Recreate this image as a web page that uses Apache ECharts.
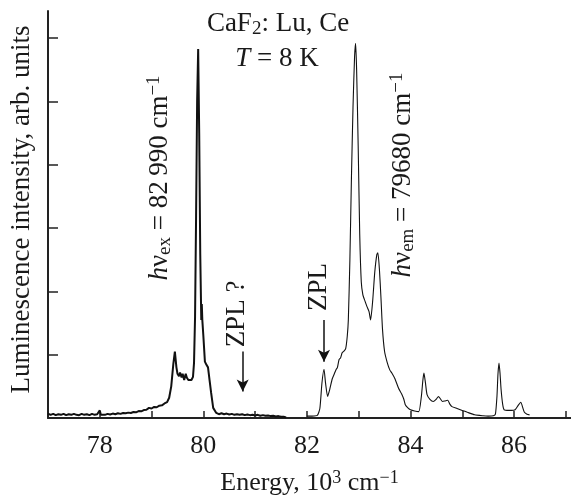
<!DOCTYPE html>
<html><head><meta charset="utf-8">
<script src="https://cdn.jsdelivr.net/npm/echarts@6/dist/echarts.min.js"></script>
<style>html,body{margin:0;padding:0;background:#fff}#c{width:571px;height:498px}</style>
</head><body><div id="c"></div>
<script>
// Excitation spectrum (thick, noisy)
const exX = [77.00,77.05,77.10,77.15,77.20,77.25,77.30,77.35,77.40,77.45,77.50,77.55,77.60,77.65,77.70,77.75,77.80,77.85,77.90,77.95,78.00,78.02,78.05,78.10,78.15,78.20,78.25,78.30,78.35,78.40,78.45,78.50,78.55,78.60,78.65,78.70,78.75,78.80,78.85,78.90,78.95,79.00,79.05,79.10,79.15,79.20,79.25,79.30,79.34,79.38,79.42,79.45,79.48,79.50,79.53,79.55,79.58,79.60,79.63,79.66,79.68,79.71,79.74,79.77,79.80,79.82,79.84,79.86,79.88,79.90,79.92,79.94,79.96,79.97,79.98,80.00,80.03,80.06,80.09,80.12,80.15,80.19,80.25,80.30,80.35,80.40,80.45,80.50,80.55,80.60,80.65,80.70,80.75,80.80,80.85,80.90,80.95,81.00,81.05,81.10,81.15,81.20,81.25,81.30,81.35,81.40,81.45,81.50,81.55,81.60];
const exY = [0.07,0.05,0.065,0.045,0.06,0.05,0.065,0.045,0.06,0.05,0.065,0.05,0.045,0.065,0.05,0.06,0.045,0.065,0.05,0.06,0.12,0.05,0.065,0.05,0.065,0.055,0.07,0.06,0.075,0.065,0.08,0.075,0.085,0.08,0.095,0.09,0.11,0.105,0.125,0.13,0.16,0.15,0.175,0.17,0.195,0.2,0.23,0.25,0.32,0.5,0.85,1.05,0.8,0.7,0.66,0.72,0.64,0.7,0.6,0.7,0.64,0.6,0.57,0.6,0.65,0.87,1.6,3.2,5.0,5.83,4.5,2.6,1.55,1.8,1.55,1.3,0.89,0.84,0.8,0.6,0.4,0.16,0.08,0.06,0.075,0.06,0.07,0.055,0.065,0.05,0.06,0.05,0.06,0.045,0.055,0.045,0.05,0.04,0.05,0.035,0.045,0.035,0.04,0.03,0.035,0.025,0.03,0.02,0.02,0.01];
// Emission spectrum (thin)
const emX = [82.00,82.10,82.20,82.25,82.29,82.33,82.36,82.40,82.44,82.49,82.53,82.56,82.59,82.62,82.65,82.68,82.72,82.75,82.78,82.80,82.83,82.86,82.89,82.92,82.94,82.96,82.99,83.02,83.05,83.08,83.12,83.16,83.20,83.23,83.27,83.31,83.35,83.37,83.40,83.43,83.46,83.50,83.55,83.60,83.64,83.70,83.77,83.83,83.87,83.90,83.95,84.00,84.08,84.16,84.21,84.24,84.26,84.29,84.32,84.38,84.44,84.50,84.54,84.58,84.62,84.67,84.72,84.76,84.80,84.90,85.00,85.10,85.24,85.40,85.50,85.60,85.64,85.67,85.69,85.71,85.73,85.75,85.78,85.81,85.90,85.95,86.02,86.08,86.13,86.17,86.20,86.25,86.30];
const emY = [0.03,0.03,0.04,0.15,0.55,0.77,0.55,0.34,0.45,0.62,0.70,0.76,0.80,0.92,0.95,1.03,1.06,1.10,1.30,1.55,2.50,3.80,4.90,5.70,5.92,5.50,4.30,2.90,2.15,1.95,1.85,1.76,1.68,1.55,1.85,2.30,2.58,2.61,2.35,1.90,1.40,1.05,0.88,0.76,0.71,0.62,0.47,0.38,0.30,0.21,0.16,0.13,0.11,0.10,0.34,0.60,0.71,0.55,0.37,0.29,0.26,0.30,0.34,0.30,0.26,0.27,0.28,0.22,0.18,0.15,0.12,0.09,0.05,0.035,0.03,0.035,0.06,0.34,0.70,0.87,0.70,0.45,0.22,0.13,0.12,0.12,0.13,0.20,0.25,0.16,0.09,0.06,0.05];
// Axis ticks
const xTickValues = [77,78,79,80,81,82,83,84,85,86,87];
const xLabelValues = [78,80,82,84,86];
const yTickValues = [1,2,3,4,5,6];
// ZPL arrows (x, top y, tip y)
const arrowX = [80.76, 82.33];
const arrowTop = [1.05, 1.55];
const arrowTip = [0.42, 0.89];

const FONT = "'Liberation Serif','Times New Roman',serif";
const INK = '#1a1a1a';
const richBase = {
  i: {fontFamily: FONT, fontStyle: 'italic', fontSize: 27, color: INK},
  sub: {fontFamily: FONT, fontSize: 19, color: INK, padding: [11, 0, 0, 0], verticalAlign: 'top'},
  sup: {fontFamily: FONT, fontSize: 19, color: INK, padding: [0, 0, 11, 0], verticalAlign: 'bottom'}
};

const chart = echarts.init(document.getElementById('c'), null, {renderer: 'canvas'});
const pair = (xs, ys) => xs.map((x, k) => [x, ys[k]]);
const arrowData = arrowX.map((x, k) => [{coord: [x, arrowTop[k]]}, {coord: [x, arrowTip[k]]}]);

chart.setOption({
  animation: false,
  backgroundColor: '#fff',
  grid: {left: 48, right: 0, top: 11, bottom: 80, containLabel: false, outerBoundsMode: 'none'},
  xAxis: {
    type: 'value', min: 77, max: 87.1,
    name: 'Energy, 10{sup|3} cm{sup|\u22121}',
    nameLocation: 'middle', nameGap: 51,
    nameTextStyle: {fontFamily: FONT, fontSize: 26, color: INK, rich: {
      sup: {fontFamily: FONT, fontSize: 18, color: INK, padding: [0,0,10,0], verticalAlign: 'bottom'}}},
    axisLine: {onZero: false, lineStyle: {color: '#222', width: 2}},
    axisTick: {inside: true, length: 7, lineStyle: {color: '#222', width: 1.5}, customValues: xTickValues},
    axisLabel: {customValues: xLabelValues, fontFamily: FONT, fontSize: 26, color: INK, margin: 15},
    splitLine: {show: false}
  },
  yAxis: {
    type: 'value', min: 0, max: 6.43,
    name: 'Luminescence intensity, arb. units',
    nameLocation: 'middle', nameRotate: 90, nameGap: 13,
    nameTextStyle: {fontFamily: FONT, fontSize: 27, color: INK, padding: [0, 0, 0, 10]},
    axisLine: {lineStyle: {color: '#222', width: 2}},
    axisTick: {inside: true, length: 10, lineStyle: {color: '#222', width: 1.5}, customValues: yTickValues},
    axisLabel: {show: false},
    splitLine: {show: false}
  },
  series: [
    {type: 'line', data: pair(exX, exY), showSymbol: false, symbol: 'none',
     lineStyle: {color: '#111', width: 2}, z: 3},
    {type: 'line', data: pair(emX, emY), showSymbol: false, symbol: 'none', smooth: 0.2,
     lineStyle: {color: '#111', width: 1.1}, z: 3,
     markLine: {silent: true, symbol: ['none', 'arrow'], symbolSize: [9, 12], label: {show: false},
       lineStyle: {color: '#111', width: 1.5, type: 'solid'}, data: arrowData}}
  ],
  graphic: [
    {type: 'text', x: 278, y: 24, style: {text: 'CaF{sub|2}: Lu, Ce', rich: richBase,
      fontFamily: FONT, fontSize: 27, fill: INK, align: 'center', verticalAlign: 'middle'}},
    {type: 'text', x: 277, y: 59, style: {text: '{i|T} = 8 K', rich: richBase,
      fontFamily: FONT, fontSize: 27, fill: INK, align: 'center', verticalAlign: 'middle'}},
    {type: 'text', x: 160, y: 178, rotation: Math.PI / 2, style: {text: '{i|h}\u03bd{sub|ex} = 82\u2009990 cm{sup|\u22121}', rich: richBase,
      fontFamily: FONT, fontSize: 27, fill: INK, align: 'center', verticalAlign: 'middle'}},
    {type: 'text', x: 403, y: 175, rotation: Math.PI / 2, style: {text: '{i|h}\u03bd{sub|em} = 79680 cm{sup|\u22121}', rich: richBase,
      fontFamily: FONT, fontSize: 27, fill: INK, align: 'center', verticalAlign: 'middle'}},
    {type: 'text', x: 237, y: 314, rotation: Math.PI / 2, style: {text: 'ZPL ?',
      fontFamily: FONT, fontSize: 27, fill: INK, align: 'center', verticalAlign: 'middle'}},
    {type: 'text', x: 319, y: 287, rotation: Math.PI / 2, style: {text: 'ZPL',
      fontFamily: FONT, fontSize: 27, fill: INK, align: 'center', verticalAlign: 'middle'}}
  ]
});
</script></body></html>
